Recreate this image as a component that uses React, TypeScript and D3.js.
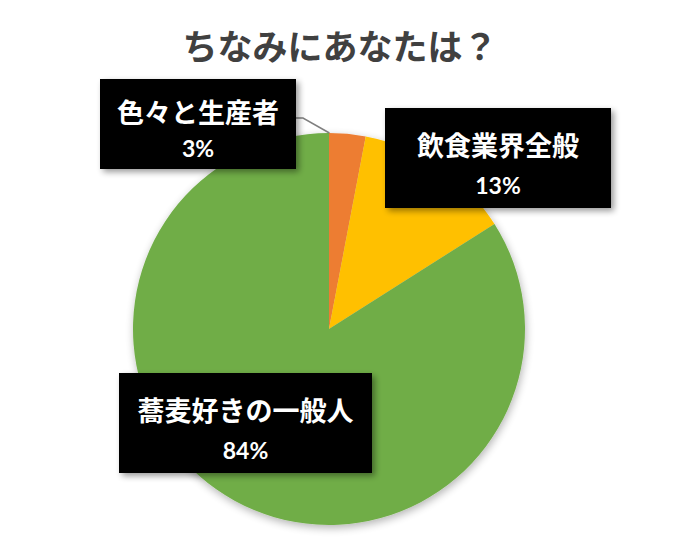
import React from "react";
import * as d3 from "d3";

const title = "ちなみにあなたは？";
const categories = ["色々と生産者", "飲食業界全般", "蕎麦好きの一般人"];
const values = [3, 13, 84];
const percentLabels = ["3%", "13%", "84%"];
const colors = ["#ED7D31", "#FFC000", "#70AD47"];

// label box layout (x, y, w, h)
const labelBoxes = [
  { x: 100, y: 79, w: 196, h: 90 },
  { x: 385, y: 108, w: 226, h: 100 },
  { x: 119, y: 373, w: 253, h: 100 },
];

const W = 684;
const H = 543;
const cx = 329;
const cy = 329;
const R = 196;

export default function App() {
  const pie = d3.pie<number>().sort(null).value((d) => d).startAngle(0).endAngle(2 * Math.PI);
  const arcs = pie(values);
  const arcGen = d3.arc<d3.PieArcDatum<number>>().innerRadius(0).outerRadius(R);

  const jp = "'Noto Sans CJK JP', 'Noto Sans', sans-serif";
  const num = "'Lato', 'Noto Sans', sans-serif";

  // leader line for first slice: from box right edge to the slice start on the rim
  const a0 = arcs[0].startAngle + 0.002;
  const box0 = labelBoxes[0];
  const lineY = box0.y + 39;
  const endX = cx + R * Math.sin(a0);
  const endY = cy - R * Math.cos(a0);
  const leader = `M${box0.x + box0.w},${lineY} L${box0.x + box0.w + 7},${lineY} L${endX},${endY}`;

  return (
    <svg width={W} height={H} style={{ position: "absolute", left: 0, top: 0, background: "#fff" }}>
      <defs>
        <filter id="pieShadow" x="-20%" y="-20%" width="140%" height="140%">
          <feGaussianBlur in="SourceAlpha" stdDeviation="4" />
          <feOffset dx="1" dy="3" result="b" />
          <feComponentTransfer>
            <feFuncA type="linear" slope="0.3" />
          </feComponentTransfer>
          <feMerge>
            <feMergeNode />
            <feMergeNode in="SourceGraphic" />
          </feMerge>
        </filter>
        <filter id="boxShadow" x="-20%" y="-20%" width="140%" height="140%">
          <feGaussianBlur in="SourceAlpha" stdDeviation="3" />
          <feOffset dx="3" dy="3" result="b" />
          <feComponentTransfer>
            <feFuncA type="linear" slope="0.4" />
          </feComponentTransfer>
          <feMerge>
            <feMergeNode />
            <feMergeNode in="SourceGraphic" />
          </feMerge>
        </filter>
      </defs>
      <rect width={W} height={H} fill="#fff" />
      <text
        x={340}
        y={44}
        textAnchor="middle"
        dominantBaseline="central"
        fontFamily={jp}
        fontWeight={700}
        fontSize={35}
        fill="#404040"
      >
        {title}
      </text>
      <g transform={`translate(${cx},${cy})`} filter="url(#pieShadow)">
        {arcs.map((a, i) => (
          <path key={i} d={arcGen(a) || ""} fill={colors[i]} />
        ))}
      </g>
      <path d={leader} fill="none" stroke="#7F7F7F" strokeWidth={1.5} />
      {labelBoxes.map((b, i) => (
        <g key={i}>
          <rect x={b.x} y={b.y} width={b.w} height={b.h} fill="#000" filter="url(#boxShadow)" />
          <text
            x={b.x + b.w / 2}
            y={b.y + b.h * 0.36}
            textAnchor="middle"
            dominantBaseline="central"
            fontFamily={jp}
            fontWeight={700}
            fontSize={27}
            fill="#fff"
          >
            {categories[i]}
          </text>
          <text
            x={b.x + b.w / 2}
            y={b.y + b.h * 0.77}
            textAnchor="middle"
            dominantBaseline="central"
            fontFamily={num}
            fontWeight={700}
            fontSize={23}
            fill="#fff"
          >
            {percentLabels[i]}
          </text>
        </g>
      ))}
    </svg>
  );
}
